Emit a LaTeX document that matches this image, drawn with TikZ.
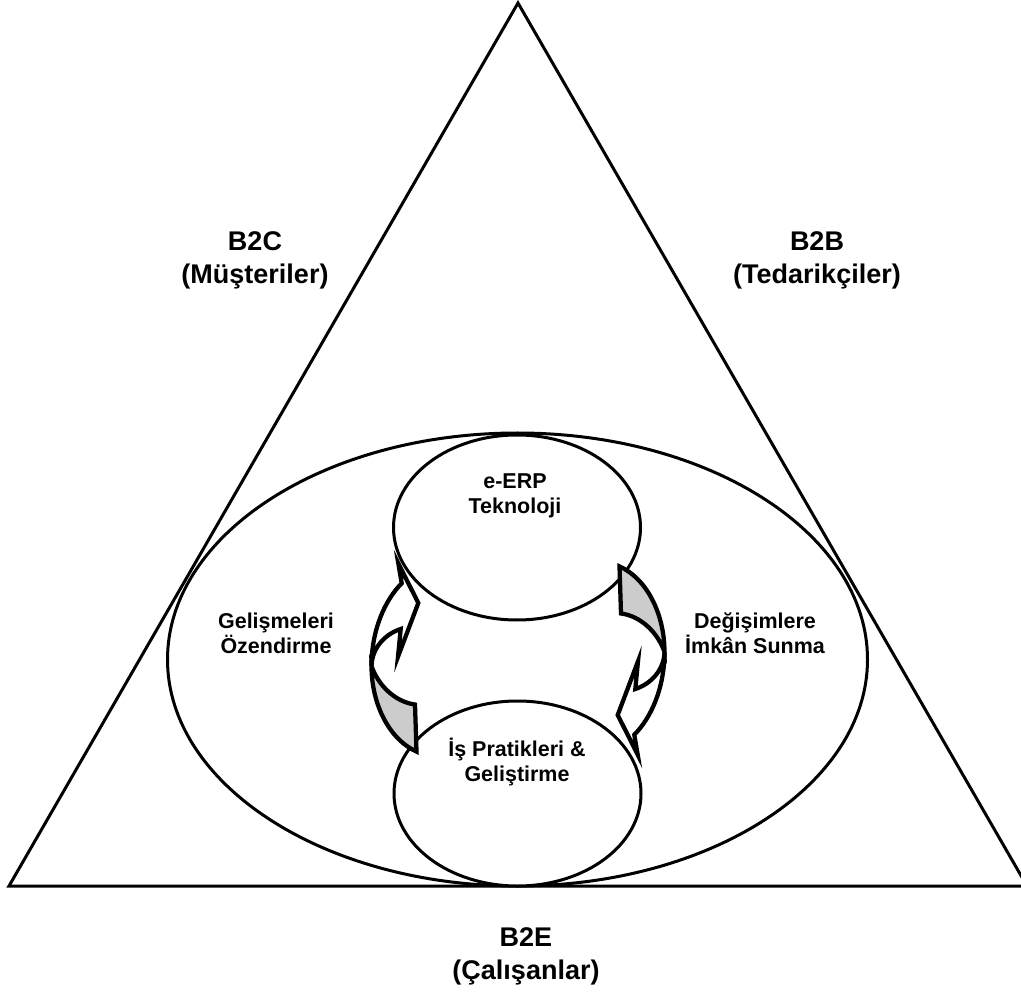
\documentclass[tikz,border=0pt]{standalone}
\usepackage{fontspec}
\setmainfont{Liberation Sans}
\usetikzlibrary{shapes.geometric}
\definecolor{bandgray}{RGB}{204,204,204}

% One curved block arrow: shaded underside at the tail, white front face with its head
\newcommand{\bentband}{%
  \draw[band, fill=bandgray]
    (371.5,666) .. controls (378,685) and (395,702) .. (415,704.5)
    -- (416.5,751.5) .. controls (390,740) and (371.5,705) .. (371.5,666) -- cycle;
  \draw[band, fill=white]
    (401.7,583.3) -- (398.3,563.3) -- (418.3,603) -- (398,656.7) -- (400.7,629)
    .. controls (385,634) and (372,648) .. (371.5,666)
    .. controls (371.5,630) and (385,600) .. (401.7,583.3) -- cycle;
}

\begin{document}
\begin{tikzpicture}[x=0.75pt, y=-0.75pt,
  outline/.style={draw=black, line width=2.25pt},
  bubble/.style={ellipse, draw=black, line width=2.25pt, inner sep=0pt, outer sep=0pt},
  band/.style={draw=black, line width=3.2pt, line join=miter, miter limit=10},
  biglabel/.style={font=\fontsize{20.25pt}{24.75pt}\selectfont\bfseries, align=center, inner sep=0pt},
  smalllabel/.style={font=\fontsize{16.1pt}{18.75pt}\selectfont\bfseries, align=center, inner sep=0pt},
]
\useasboundingbox (0,0) rectangle (1021,994);

% outer triangle
\coordinate (apex) at (518,3);
\coordinate (left) at (9,886);
\coordinate (right) at (1027,886);
\draw[outline, line join=miter] (left) -- (apex) -- (right) -- cycle;

% large ellipse and the two inner ellipses
\node[bubble, minimum width=525pt, minimum height=339.75pt] (field) at (517.5,659.5) {};
\node[bubble, fill=white, minimum width=185.25pt, minimum height=138.75pt] (tech) at (517,527.5) {};
\node[bubble, fill=white, minimum width=185.25pt, minimum height=138.75pt] (practice) at (517.5,793.5) {};

% curved arrows, the right one turned half a circle about the centre
\bentband
\begin{scope}[rotate around={180:(518,659)}]
  \bentband
\end{scope}

% labels
\node[biglabel] (b2c) at (255,260) {B2C\\(Müşteriler)};
\node[biglabel] (b2b) at (817,260) {B2B\\(Tedarikçiler)};
\node[biglabel] (b2e) at (526,956.5) {B2E\\(Çalışanlar)};

\node[smalllabel] (techlabel) at (515,495.5) {e-ERP\\Teknoloji};
\node[smalllabel] (practicelabel) at (517,762) {İş Pratikleri \&\\Geliştirme};
\node[smalllabel] (leftlabel) at (276,633) {Gelişmeleri\\Özendirme};
\node[smalllabel] (rightlabel) at (755,633) {Değişimlere\\İmkân Sunma};
\end{tikzpicture}
\end{document}
